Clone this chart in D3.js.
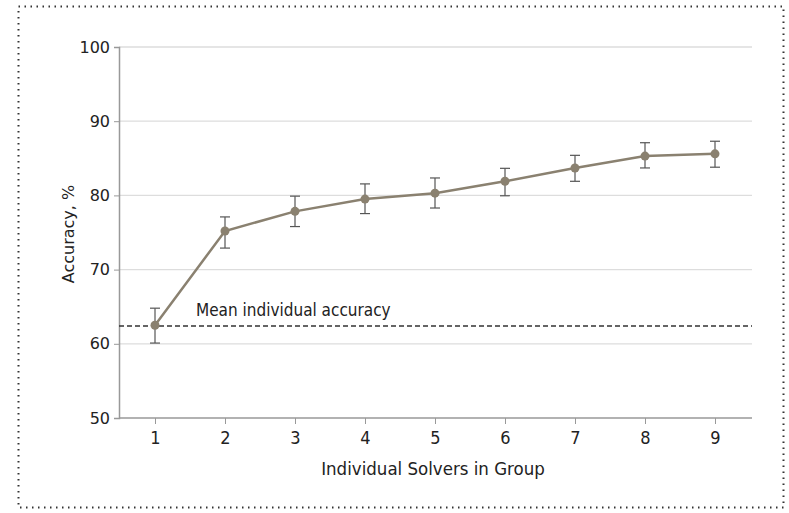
<!DOCTYPE html>
<html><head><meta charset="utf-8">
<script src="https://cdn.jsdelivr.net/npm/d3@7"></script>
<style>
body{margin:0;background:#fff;}
</style></head>
<body><svg id="c" width="789" height="513"></svg>
<script>
const solvers = [1,2,3,4,5,6,7,8,9];
const accuracy = [62.5,75.2,77.85,79.5,80.3,81.9,83.7,85.3,85.6];
const errLow = [60.1,72.9,75.8,77.55,78.3,79.95,81.9,83.7,83.8];
const errHigh = [64.8,77.1,79.9,81.55,82.35,83.65,85.4,87.1,87.3];
const yTicks = [50,60,70,80,90,100];
const meanIndividual = 62.4;

const COND = "'DejaVu Sans Condensed', 'DejaVu Sans', sans-serif";
const REG = "'DejaVu Sans', sans-serif";

const svg = d3.select("#c");
svg.append("rect").attr("x",18.5).attr("y",6.5).attr("width",765).attr("height",501)
  .attr("fill","none").attr("stroke","#333").attr("stroke-width",2).attr("stroke-dasharray","1.5,4.5");

const x = d3.scaleLinear().domain([0.5,9.5]).range([120,750]);
const y = d3.scaleLinear().domain([50,100]).range([418,47]);

// gridlines
svg.append("g").selectAll("line").data(yTicks.slice(1)).join("line")
  .attr("x1",119).attr("x2",752).attr("y1",d=>y(d)).attr("y2",d=>y(d))
  .attr("stroke","#ddd").attr("stroke-width",1.3);

// y axis
const ya = svg.append("g").attr("transform","translate(119,0)")
  .call(d3.axisLeft(y).tickValues(yTicks).tickSize(5).tickPadding(4));
ya.select(".domain").attr("stroke","#999").attr("stroke-width",1.5);
ya.selectAll(".tick line").attr("stroke","#999");
ya.selectAll("text").style("font-family",REG).style("font-size","16px").attr("fill","#222");

// x axis
const xa = svg.append("g").attr("transform","translate(0,418)")
  .call(d3.axisBottom(x).tickValues(solvers).tickSize(6).tickPadding(7).tickSizeOuter(0));
xa.select(".domain").attr("stroke","#999").attr("stroke-width",1.5).attr("d","M119,0H752");
xa.selectAll(".tick line").attr("stroke","#999");
xa.selectAll("text").style("font-family",COND).style("font-size","18px").attr("fill","#222");

// labels
svg.append("text").attr("x",433).attr("y",475).attr("text-anchor","middle")
  .style("font-family",COND).style("font-size","18.5px").attr("fill","#222").text("Individual Solvers in Group");
svg.append("text").attr("transform","translate(74,234) rotate(-90)").attr("text-anchor","middle")
  .style("font-family",REG).style("font-size","16px").attr("fill","#222").text("Accuracy, %");

// mean line
svg.append("line").attr("x1",119).attr("x2",752).attr("y1",y(meanIndividual)).attr("y2",y(meanIndividual))
  .attr("stroke","#333").attr("stroke-width",1.3).attr("stroke-dasharray","5,3");
svg.append("text").attr("x",196).attr("y",y(meanIndividual)-10)
  .style("font-family",COND).style("font-size","17px").attr("fill","#222").text("Mean individual accuracy");

const data = solvers.map((s,i)=>({s,v:accuracy[i],lo:errLow[i],hi:errHigh[i]}));

// line
svg.append("path").datum(data).attr("fill","none").attr("stroke","#8a8170").attr("stroke-width",2.5)
  .attr("d",d3.line().x(d=>x(d.s)).y(d=>y(d.v)));

// error bars
const eb = svg.append("g").attr("stroke","#555").attr("stroke-width",1.2);
eb.selectAll(".v").data(data).join("line").attr("x1",d=>x(d.s)).attr("x2",d=>x(d.s)).attr("y1",d=>y(d.lo)).attr("y2",d=>y(d.hi));
eb.selectAll(".t").data(data).join("line").attr("x1",d=>x(d.s)-5).attr("x2",d=>x(d.s)+5).attr("y1",d=>y(d.hi)).attr("y2",d=>y(d.hi));
eb.selectAll(".b").data(data).join("line").attr("x1",d=>x(d.s)-5).attr("x2",d=>x(d.s)+5).attr("y1",d=>y(d.lo)).attr("y2",d=>y(d.lo));

// points
svg.append("g").selectAll("circle").data(data).join("circle")
  .attr("cx",d=>x(d.s)).attr("cy",d=>y(d.v)).attr("r",4.5).attr("fill","#8a8170");
</script></body></html>
